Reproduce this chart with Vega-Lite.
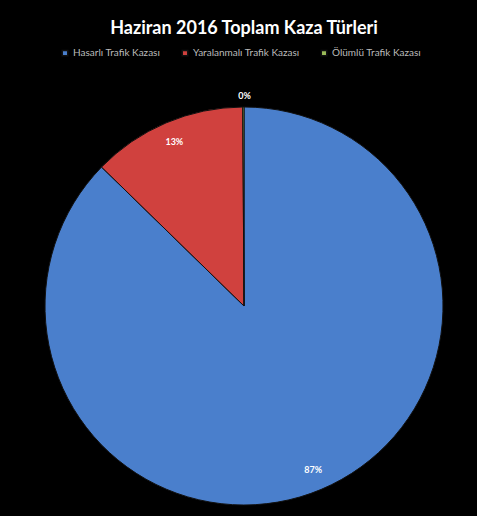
{
  "$schema": "https://vega.github.io/schema/vega-lite/v6.json",
  "width": 398,
  "height": 398,
  "autosize": {"type": "none"},
  "padding": {"left": 45, "top": 107, "right": 34, "bottom": 11},
  "background": "black",
  "config": {"view": {"stroke": null}},
  "title": {
    "text": "Haziran 2016 Toplam Kaza Türleri",
    "color": "white",
    "font": "Lato",
    "fontWeight": "bold",
    "fontSize": 18,
    "anchor": "middle",
    "offset": 10
  },
  "data": {
    "values": [
      {"tur": "Hasarlı Trafik Kazası", "oran": 0.873, "sira": 1},
      {"tur": "Yaralanmalı Trafik Kazası", "oran": 0.126, "sira": 2},
      {"tur": "Ölümlü Trafik Kazası", "oran": 0.001, "sira": 3}
    ]
  },
  "encoding": {
    "theta": {"field": "oran", "type": "quantitative", "stack": true},
    "order": {"field": "sira", "type": "quantitative"}
  },
  "layer": [
    {
      "mark": {"type": "arc", "stroke": "#111111", "strokeWidth": 1},
      "encoding": {
        "color": {
          "field": "tur",
          "type": "nominal",
          "scale": {
            "domain": ["Hasarlı Trafik Kazası", "Yaralanmalı Trafik Kazası", "Ölümlü Trafik Kazası"],
            "range": ["#4A7FCC", "#D0413E", "#9BBB59"]
          },
          "legend": {
            "title": null,
            "orient": "none",
            "legendX": 15,
            "legendY": -59,
            "direction": "horizontal",
            "symbolType": "square",
            "symbolSize": 30,
            "labelFontSize": 10,
            "labelColor": "#bbbbbb",
            "labelFont": "Lato",
            "columnPadding": 18,
            "labelOffset": 3
          }
        }
      }
    },
    {
      "transform": [{"filter": "datum.oran >= 0.01"}],
      "mark": {"type": "text", "radius": 178, "color": "white", "fontSize": 9, "fontWeight": "bold", "font": "Lato"},
      "encoding": {
        "text": {"field": "oran", "type": "quantitative", "format": ".0%"}
      }
    },
    {
      "transform": [{"filter": "datum.oran < 0.01"}],
      "mark": {"type": "text", "radius": 210, "color": "white", "fontSize": 9, "fontWeight": "bold", "font": "Lato"},
      "encoding": {
        "text": {"field": "oran", "type": "quantitative", "format": ".0%"}
      }
    }
  ]
}
